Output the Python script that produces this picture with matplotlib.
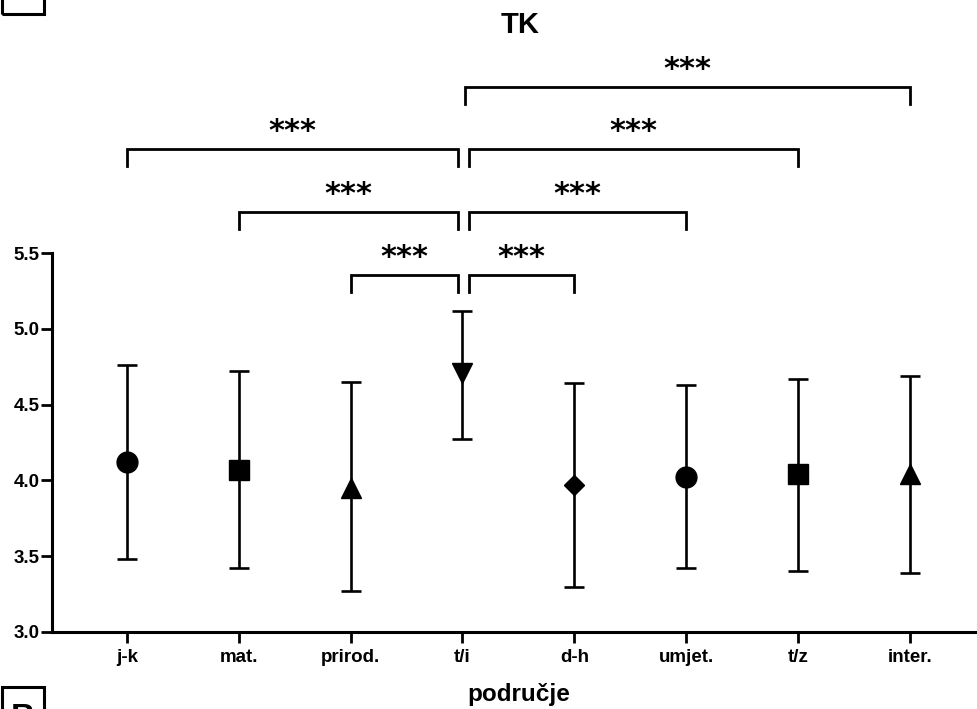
import matplotlib
matplotlib.use("Agg")
import matplotlib.pyplot as plt
from matplotlib.patches import Rectangle

categories = ["j-k", "mat.", "prirod.", "t/i", "d-h", "umjet.", "t/z", "inter."]
means = [4.12, 4.07, 3.95, 4.71, 3.97, 4.02, 4.04, 4.04]
upper = [4.76, 4.72, 4.65, 5.12, 4.64, 4.63, 4.67, 4.69]
lower = [3.48, 3.42, 3.27, 4.27, 3.30, 3.42, 3.40, 3.39]
markers = ["o", "s", "^", "v", "D", "o", "s", "^"]

# significance brackets: (left category, right category, bracket height, label)
pairs = [
    ("prirod.", "t/i", 5.355, "***"),
    ("t/i", "d-h", 5.355, "***"),
    ("mat.", "t/i", 5.77, "***"),
    ("t/i", "umjet.", 5.77, "***"),
    ("j-k", "t/i", 6.186, "***"),
    ("t/i", "t/z", 6.186, "***"),
    ("t/i", "inter.", 6.595, "***"),
]

plt.rcParams["font.family"] = ["Liberation Sans", "DejaVu Sans"]
plt.rcParams["font.weight"] = "bold"

W, H = 978, 709
fig = plt.figure(figsize=(W / 100, H / 100), dpi=100)
ax = fig.add_axes([52 / W, 1 - 632 / H, (W - 52) / W, (632 - 253) / H])

x = list(range(len(categories)))
for i in x:
    ax.errorbar(i, means[i], yerr=[[means[i] - lower[i]], [upper[i] - means[i]]],
                fmt=markers[i], color="black", ecolor="black",
                ms=10 if markers[i] == "D" else 15, elinewidth=1.9,
                capsize=7.5, capthick=1.9, zorder=3)

ax.set_xlim(-0.67, 7.61)
ax.set_ylim(3.0, 5.5)
ax.set_yticks([3.0, 3.5, 4.0, 4.5, 5.0, 5.5])
ax.set_yticklabels([f"{v:.1f}" for v in [3.0, 3.5, 4.0, 4.5, 5.0, 5.5]])
ax.set_xticks(x)
ax.set_xticklabels(categories)
ax.tick_params(width=2.0, length=8, labelsize=13.5)
ax.tick_params(axis="y", pad=1)
ax.tick_params(axis="x", pad=4)
for s in ["top", "right"]:
    ax.spines[s].set_visible(False)
for s in ["left", "bottom"]:
    ax.spines[s].set_linewidth(2.2)
for lab in ax.get_xticklabels() + ax.get_yticklabels():
    lab.set_fontweight("bold")

# brackets above the axes
drop = 0.112
ti = categories.index("t/i")
for a, b, h, lab in pairs:
    xa, xb = categories.index(a), categories.index(b)
    if xb == ti:
        xb -= 0.04
    if xa == ti:
        xa += 0.02 if h > 6.4 else 0.06
    ax.plot([xa, xa, xb, xb], [h - drop, h, h, h - drop], color="black",
            lw=2.0, clip_on=False, solid_joinstyle="miter")
    ax.text((xa + xb) / 2, h + 0.06, lab, ha="center", va="baseline",
            fontsize=22, fontweight="bold", family="DejaVu Sans", clip_on=False)

fig.text(520 / W, 1 - 33 / H, "TK", ha="center", va="baseline",
         fontsize=21, fontweight="bold")
fig.text(519 / W, 1 - 701 / H, "područje", ha="center", va="baseline",
         fontsize=17.5, fontweight="bold")

# panel label boxes cut off by the crop
fig.patches.append(Rectangle((2 / W, 1 - 14 / H), 42 / W, 30 / H, fill=False,
                             lw=2.2, ec="black", transform=fig.transFigure))
fig.patches.append(Rectangle((2 / W, 1 - 730 / H), 42 / W, 43 / H, fill=False,
                             lw=2.2, ec="black", transform=fig.transFigure))
fig.text(23 / W, 1 - 703 / H, "B", ha="center", va="top",
         fontsize=24, fontweight="bold")

fig.savefig("out.png", dpi=100)
